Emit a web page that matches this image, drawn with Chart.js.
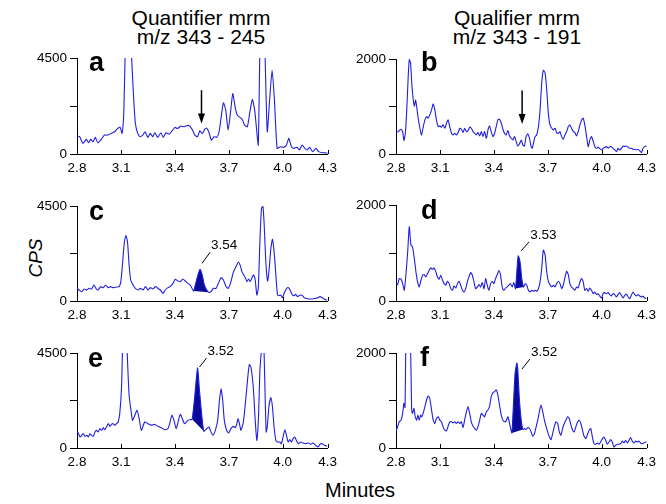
<!DOCTYPE html>
<html>
<head>
<meta charset="utf-8">
<script src="https://cdn.jsdelivr.net/npm/chart.js@4.4.1/dist/chart.umd.min.js"></script>
<style>
  body { margin: 0; background: #fff; width: 666px; height: 504px; position: relative; overflow: hidden;
         font-family: 'Liberation Sans', Arial, Helvetica, sans-serif; color: #000; }
  canvas { position: absolute; }
  .title { position: absolute; width: 240px; text-align: center; font-size: 21px; line-height: 19px; color: #000; }
  .axisname { position: absolute; white-space: nowrap; line-height: 1; color: #000; transform: translate(-50%, -50%); }
</style>
</head>
<body>
<div class="title" style="left:81px;top:8px">Quantifier mrm<br>m/z 343 - 245</div>
<div class="title" style="left:397px;top:8px">Qualifier mrm<br>m/z 343 - 191</div>
<div class="axisname" style="left:35px;top:258px;font-size:19px;font-style:italic;transform:translate(-50%,-50%) rotate(-90deg)">CPS</div>
<div class="axisname" style="left:360px;top:490px;font-size:20px">Minutes</div>

<canvas id="pa" width="326" height="132" style="left:17px;top:46px"></canvas>
<canvas id="pb" width="326" height="131" style="left:336px;top:47px"></canvas>
<canvas id="pc" width="326" height="131" style="left:17px;top:194px"></canvas>
<canvas id="pd" width="326" height="132" style="left:336px;top:193px"></canvas>
<canvas id="pe" width="326" height="131" style="left:17px;top:341px"></canvas>
<canvas id="pf" width="326" height="131" style="left:336px;top:341px"></canvas>

<script>
// x axis: the plotted window runs a bit inside the end labels 2.8 / 4.3
const tickTimes = [2.855, 3.1, 3.4, 3.7, 4.0, 4.25];
const tickLabels = ["2.8", "3.1", "3.4", "3.7", "4.0", "4.3"];

// a: quantifier, blank
const aTimes = [2.857,2.870,2.888,2.907,2.920,2.931,2.944,2.957,2.971,2.990,3.008,3.027,3.045,3.064,3.082,3.095,3.106,3.116,3.125,3.138,3.156,3.171,3.180,3.193,3.206,3.221,3.234,3.249,3.263,3.276,3.289,3.304,3.322,3.335,3.350,3.369,3.387,3.400,3.415,3.433,3.452,3.470,3.483,3.498,3.511,3.526,3.539,3.553,3.566,3.577,3.590,3.603,3.618,3.633,3.646,3.659,3.670,3.683,3.696,3.711,3.722,3.735,3.747,3.762,3.775,3.788,3.803,3.816,3.831,3.844,3.855,3.864,3.873,3.886,3.901,3.914,3.927,3.941,3.954,3.969,3.988,4.006,4.021,4.034,4.049,4.062,4.080,4.093,4.108,4.123,4.136,4.150,4.167,4.185,4.200,4.219,4.237,4.252];
const aCounts = [841,810,498,685,529,685,576,779,529,685,887,887,965,1043,1199,1246,965,2055,5500,8000,5000,2522,1432,965,810,887,1043,779,965,810,996,779,996,779,996,934,1121,1246,1199,1308,1277,1339,1308,1121,887,810,1090,965,1152,1214,996,654,810,779,1043,1822,2398,2055,1121,2055,2834,2211,1822,1713,1619,1355,1277,1900,2553,2055,1121,420,4800,7500,4800,1043,2522,3924,2522,265,343,311,420,732,343,265,311,187,420,265,187,311,109,265,109,62,62,31];
const aArrow = { time: 3.548, top: 2990, tip: 1432 };

// b: qualifier, blank
const bTimes = [2.855,2.868,2.881,2.892,2.899,2.907,2.914,2.923,2.929,2.936,2.944,2.951,2.957,2.964,2.970,2.977,2.988,2.997,3.007,3.016,3.025,3.034,3.043,3.053,3.062,3.071,3.080,3.090,3.099,3.108,3.117,3.127,3.136,3.145,3.154,3.164,3.173,3.182,3.191,3.201,3.210,3.219,3.228,3.237,3.247,3.256,3.265,3.274,3.284,3.293,3.302,3.311,3.321,3.330,3.339,3.348,3.358,3.367,3.376,3.385,3.395,3.404,3.413,3.422,3.431,3.441,3.450,3.459,3.468,3.478,3.487,3.496,3.505,3.515,3.524,3.533,3.542,3.552,3.561,3.570,3.579,3.589,3.598,3.607,3.613,3.620,3.629,3.638,3.648,3.657,3.666,3.675,3.685,3.694,3.703,3.712,3.722,3.731,3.740,3.749,3.759,3.768,3.777,3.786,3.795,3.805,3.814,3.823,3.832,3.842,3.851,3.860,3.869,3.879,3.888,3.897,3.906,3.916,3.925,3.934,3.943,3.953,3.962,3.971,3.980,3.989,3.999,4.008,4.017,4.026,4.036,4.045,4.054,4.063,4.073,4.082,4.091,4.100,4.110,4.119,4.128,4.137,4.147,4.156,4.165,4.174,4.184,4.193,4.202,4.211,4.221,4.230,4.239,4.248,4.254];
const bCounts = [451,472,521,472,282,437,859,1634,1986,1915,1422,1141,1000,1141,1000,789,542,401,577,718,789,754,824,930,1056,930,718,577,592,563,613,542,648,718,577,437,401,437,401,451,542,521,451,542,472,493,563,542,472,437,401,451,380,472,366,472,331,507,592,472,366,437,577,718,732,648,521,437,401,493,380,331,296,366,261,169,211,296,190,169,366,423,331,155,120,225,366,401,577,930,1493,1761,1704,1352,859,613,542,507,542,451,437,472,366,310,401,472,577,613,542,472,451,380,472,613,718,754,613,366,155,296,366,261,155,120,141,113,85,120,141,155,120,155,155,120,85,49,120,85,120,169,155,169,141,120,120,99,99,85,99,70,28,120,155,169,155];
const bArrow = { time: 3.557, top: 1338, tip: 634 };

// c: quantifier, spiked low level
const cTimes = [2.855,2.866,2.881,2.894,2.909,2.922,2.936,2.949,2.960,2.973,2.986,3.001,3.014,3.029,3.042,3.056,3.075,3.090,3.099,3.108,3.117,3.127,3.136,3.145,3.154,3.167,3.180,3.195,3.208,3.223,3.236,3.250,3.263,3.278,3.291,3.306,3.319,3.334,3.346,3.361,3.374,3.389,3.402,3.417,3.430,3.444,3.457,3.472,3.485,3.500,3.505,3.518,3.531,3.540,3.552,3.564,3.577,3.588,3.601,3.614,3.629,3.642,3.657,3.670,3.685,3.697,3.712,3.725,3.740,3.753,3.764,3.773,3.783,3.792,3.801,3.810,3.819,3.829,3.838,3.847,3.856,3.864,3.873,3.882,3.890,3.897,3.906,3.916,3.925,3.934,3.943,3.952,3.962,3.971,3.980,3.989,3.999,4.008,4.017,4.026,4.036,4.045,4.054,4.063,4.073,4.082,4.091,4.100,4.110,4.119,4.128,4.147,4.165,4.184,4.196,4.207,4.220,4.230,4.239,4.248];
const cCounts = [600,521,442,568,521,600,568,758,600,521,679,632,758,632,679,632,663,679,916,1705,2653,3095,2811,1705,995,758,600,521,600,521,679,521,632,568,679,600,521,363,521,632,679,837,1026,947,916,1042,947,837,758,521,474,916,1311,1500,1232,758,521,411,442,600,600,837,1105,995,679,600,916,1358,1626,1832,1674,1390,1232,1105,916,1042,916,1105,1232,995,284,600,2811,4390,4470,3600,1863,947,1547,2495,2921,2337,1232,284,253,284,158,363,521,632,600,442,284,253,316,205,253,284,253,158,126,95,95,126,158,205,158,95,63,47];
const cShade = [3.505, 3.588];
const cPeakLabel = "3.54";

// d: qualifier, spiked low level
const dTimes = [2.855,2.864,2.873,2.883,2.892,2.901,2.910,2.920,2.929,2.938,2.947,2.957,2.966,2.975,2.984,2.994,3.003,3.012,3.021,3.031,3.040,3.049,3.058,3.067,3.077,3.086,3.095,3.104,3.114,3.123,3.132,3.141,3.151,3.160,3.169,3.178,3.188,3.197,3.206,3.215,3.225,3.234,3.243,3.252,3.261,3.271,3.280,3.289,3.298,3.308,3.317,3.326,3.335,3.345,3.354,3.363,3.372,3.382,3.391,3.400,3.409,3.419,3.428,3.437,3.446,3.455,3.465,3.474,3.483,3.492,3.502,3.511,3.520,3.529,3.535,3.542,3.548,3.555,3.565,3.574,3.583,3.592,3.601,3.611,3.620,3.629,3.638,3.648,3.657,3.666,3.675,3.685,3.694,3.703,3.712,3.722,3.731,3.740,3.749,3.759,3.768,3.777,3.786,3.795,3.805,3.814,3.823,3.832,3.842,3.851,3.860,3.869,3.879,3.888,3.897,3.906,3.916,3.925,3.934,3.943,3.953,3.962,3.971,3.980,3.989,3.999,4.008,4.017,4.026,4.036,4.045,4.054,4.063,4.073,4.082,4.091,4.100,4.110,4.119,4.128,4.137,4.147,4.156,4.165,4.174,4.184,4.193,4.202,4.211,4.221,4.230,4.239,4.248];
const dCounts = [383,341,467,455,362,223,537,1024,1547,1164,1129,885,606,397,293,432,537,551,502,571,641,690,662,690,606,502,453,537,432,362,328,411,362,258,223,314,272,362,411,328,223,188,258,397,502,592,537,397,258,293,341,293,383,258,467,328,223,362,411,362,467,551,634,537,293,223,272,293,328,362,293,383,258,676,941,880,746,467,293,362,328,223,188,223,202,223,202,258,397,676,1059,955,606,411,341,293,328,293,362,411,362,258,328,481,620,551,362,293,258,223,293,272,397,467,397,223,258,202,272,223,153,188,132,153,105,63,153,174,153,174,132,105,153,132,84,132,174,118,63,118,146,84,49,118,188,132,105,132,105,84,105,63,49];
const dShade = [3.520, 3.565];
const dPeakLabel = "3.53";

// e: quantifier, spiked higher level
const eTimes = [2.855,2.862,2.872,2.881,2.890,2.899,2.909,2.918,2.927,2.936,2.946,2.955,2.964,2.973,2.982,2.992,3.001,3.010,3.019,3.029,3.038,3.047,3.056,3.066,3.075,3.084,3.093,3.103,3.108,3.121,3.134,3.145,3.158,3.164,3.177,3.189,3.201,3.213,3.232,3.250,3.269,3.287,3.306,3.324,3.343,3.361,3.371,3.383,3.395,3.407,3.420,3.430,3.441,3.454,3.472,3.485,3.496,3.511,3.526,3.537,3.550,3.561,3.577,3.589,3.601,3.611,3.625,3.638,3.648,3.657,3.666,3.675,3.688,3.699,3.712,3.725,3.736,3.744,3.751,3.759,3.768,3.781,3.792,3.805,3.814,3.823,3.836,3.847,3.856,3.866,3.873,3.881,3.888,3.896,3.901,3.908,3.914,3.923,3.934,3.943,3.952,3.962,3.971,3.984,3.993,4.004,4.012,4.021,4.030,4.039,4.049,4.058,4.067,4.076,4.087,4.100,4.113,4.128,4.143,4.156,4.169,4.184,4.196,4.207,4.220,4.233,4.248];
const eCounts = [758,711,521,600,679,553,600,521,679,600,553,758,837,758,916,837,963,868,995,1153,1026,1121,1153,1074,1153,1232,1626,2890,4600,7500,4600,2500,1626,1310,1550,1784,1400,837,1232,1153,1074,1121,1026,963,868,916,1153,1547,1310,916,1310,1595,1389,1153,1310,1342,1358,2500,3790,2700,1500,790,916,995,758,600,837,1310,2258,2811,2258,1310,837,711,916,1026,963,1121,1390,1153,837,1232,2100,3284,3948,3837,2890,1310,363,1626,3679,4600,6500,4600,2890,758,995,1942,2384,1942,995,363,284,284,205,600,868,600,284,395,284,442,521,363,205,284,237,205,237,174,237,126,47,174,205,126,79];
const eShade = [3.496, 3.561];
const ePeakLabel = "3.52";

// f: qualifier, spiked higher level
const fTimes = [2.855,2.864,2.873,2.883,2.892,2.899,2.905,2.910,2.922,2.936,2.942,2.947,2.955,2.962,2.970,2.977,2.984,2.992,2.999,3.007,3.016,3.025,3.034,3.043,3.053,3.062,3.071,3.080,3.090,3.099,3.108,3.117,3.127,3.136,3.145,3.154,3.164,3.173,3.182,3.191,3.201,3.210,3.219,3.228,3.237,3.247,3.256,3.265,3.274,3.284,3.293,3.302,3.311,3.321,3.330,3.339,3.348,3.358,3.367,3.376,3.385,3.395,3.404,3.413,3.422,3.431,3.441,3.450,3.459,3.468,3.478,3.487,3.500,3.509,3.518,3.528,3.533,3.542,3.552,3.561,3.570,3.579,3.589,3.598,3.607,3.616,3.626,3.635,3.644,3.653,3.662,3.672,3.681,3.690,3.699,3.709,3.718,3.727,3.736,3.745,3.755,3.764,3.773,3.782,3.792,3.801,3.810,3.819,3.829,3.838,3.847,3.856,3.866,3.875,3.884,3.893,3.902,3.912,3.921,3.930,3.939,3.948,3.957,3.967,3.976,3.985,3.994,4.004,4.013,4.022,4.031,4.041,4.050,4.059,4.068,4.078,4.087,4.096,4.105,4.115,4.124,4.133,4.142,4.152,4.161,4.170,4.179,4.189,4.198,4.207,4.216,4.226,4.235,4.244,4.254];
const fCounts = [353,445,551,587,728,940,855,2200,3500,2200,798,728,834,657,587,693,587,693,657,742,869,1010,1095,1046,798,587,516,622,657,587,551,445,375,360,459,551,551,530,551,516,551,516,551,431,587,763,869,728,551,459,410,375,445,587,728,693,657,763,798,883,1081,1166,1187,1223,1117,905,693,587,551,572,657,516,318,940,1576,1788,1647,1011,587,389,410,389,431,410,339,247,304,445,587,763,905,763,587,459,339,233,177,304,445,551,516,339,269,410,516,587,657,622,481,375,339,445,551,587,516,375,247,198,290,375,410,233,92,78,106,78,127,198,233,163,78,127,177,127,21,57,78,78,92,148,106,163,106,163,219,148,106,148,127,148,106,92,106,127,127];
const fShade = [3.500, 3.561];
const fPeakLabel = "3.52";

const traceBlue = "#1f1fe0";
const shadeBlue = "#0a0a96";
const fontFamily = "'Liberation Sans', Arial, Helvetica, sans-serif";

Chart.defaults.font.family = fontFamily;
Chart.defaults.font.size = 13.5;
Chart.defaults.color = "#000";

const panels = [
  { id: "pa", letter: "a", times: aTimes, counts: aCounts, yMax: 4500, letterAt: [12, 13], arrow: aArrow },
  { id: "pb", letter: "b", times: bTimes, counts: bCounts, yMax: 2000, letterAt: [25, 12], arrow: bArrow },
  { id: "pc", letter: "c", times: cTimes, counts: cCounts, yMax: 4500, letterAt: [12, 14], shade: cShade, label: cPeakLabel, lead: [2, -6, 10, -17] },
  { id: "pd", letter: "d", times: dTimes, counts: dCounts, yMax: 2000, letterAt: [25, 14], shade: dShade, label: dPeakLabel, lead: [3, -5, 11, -14] },
  { id: "pe", letter: "e", times: eTimes, counts: eCounts, yMax: 4500, letterAt: [11, 14], shade: eShade, label: ePeakLabel, lead: [2, -1, 9, -10] },
  { id: "pf", letter: "f", times: fTimes, counts: fCounts, yMax: 2000, letterAt: [24, 13], shade: fShade, label: fPeakLabel, lead: [5, 6, 13, -4] }
];

// letters, inward x ticks, arrows and peak labels
function panelMarks(p, peak) {
  return {
    id: "marks_" + p.id,
    afterDraw(chart) {
      const { ctx, chartArea: area, scales: { x, y } } = chart;
      ctx.save();
      ctx.strokeStyle = "#000";
      ctx.fillStyle = "#000";
      ctx.lineWidth = 1;
      tickTimes.forEach(t => {
        const px = Math.round(x.getPixelForValue(t)) + 0.5;
        ctx.beginPath();
        ctx.moveTo(px, area.bottom);
        ctx.lineTo(px, area.bottom - 4);
        ctx.stroke();
      });

      ctx.font = "bold 27px " + fontFamily;
      ctx.textAlign = "left";
      ctx.textBaseline = "alphabetic";
      ctx.fillText(p.letter, area.left + p.letterAt[0], area.top + p.letterAt[1]);

      if (p.arrow) {
        const ax = x.getPixelForValue(p.arrow.time);
        const y1 = y.getPixelForValue(p.arrow.top);
        const y2 = y.getPixelForValue(p.arrow.tip);
        ctx.lineWidth = 1.5;
        ctx.beginPath();
        ctx.moveTo(ax, y1);
        ctx.lineTo(ax, y2 - 8);
        ctx.stroke();
        ctx.beginPath();
        ctx.moveTo(ax - 3.5, y2 - 10);
        ctx.lineTo(ax + 3.5, y2 - 10);
        ctx.lineTo(ax, y2);
        ctx.closePath();
        ctx.fill();
      }

      if (peak) {
        const px = x.getPixelForValue(peak.x);
        const py = y.getPixelForValue(peak.y);
        const [dx1, dy1, dx2, dy2] = p.lead;
        ctx.lineWidth = 1;
        ctx.beginPath();
        ctx.moveTo(px + dx1, py + dy1);
        ctx.lineTo(px + dx2, py + dy2);
        ctx.stroke();
        ctx.font = "13.5px " + fontFamily;
        ctx.textBaseline = "middle";
        ctx.fillText(p.label, px + dx2 + 1, py + dy2 - 7);
      }
      ctx.restore();
    }
  };
}

panels.forEach(p => {
  const pts = p.times.map((t, i) => ({ x: t, y: p.counts[i] }));
  const datasets = [{
    data: pts, borderColor: traceBlue, borderWidth: 1.1, pointRadius: 0, tension: 0.2, fill: false
  }];
  let peak = null;
  if (p.shade) {
    const part = pts.filter(q => q.x >= p.shade[0] - 1e-9 && q.x <= p.shade[1] + 1e-9);
    peak = part.reduce((m, q) => (q.y > m.y ? q : m), part[0]);
    datasets.push({
      data: part, borderWidth: 0, borderColor: "transparent", pointRadius: 0, tension: 0.2,
      fill: "+1", backgroundColor: shadeBlue
    });
    datasets.push({
      data: [part[0], part[part.length - 1]], borderWidth: 0, borderColor: "transparent",
      pointRadius: 0, tension: 0, fill: false
    });
  }

  new Chart(document.getElementById(p.id), {
    type: "line",
    data: { datasets },
    options: {
      responsive: false,
      animation: false,
      devicePixelRatio: 1,
      layout: { padding: { top: 12, right: 14, left: 0, bottom: 0 } },
      plugins: { legend: { display: false }, tooltip: { enabled: false } },
      scales: {
        x: {
          type: "linear", min: tickTimes[0], max: tickTimes[tickTimes.length - 1],
          afterBuildTicks: s => { s.ticks = tickTimes.map(v => ({ value: v })); },
          afterFit: s => { s.height = 24; },
          ticks: { autoSkip: false, maxRotation: 0, padding: 6, color: "#000",
                   callback: (v, i) => tickLabels[i] },
          grid: { display: false, drawTicks: false },
          border: { display: true, color: "#000", width: 1 }
        },
        y: {
          type: "linear", min: 0, max: p.yMax,
          afterBuildTicks: s => { s.ticks = [0, p.yMax / 2, p.yMax].map(v => ({ value: v })); },
          afterFit: s => { s.width = 60; },
          ticks: { padding: 3, color: "#000",
                   callback: v => (v === p.yMax / 2 ? "" : String(v)) },
          grid: { drawOnChartArea: false, drawTicks: true, tickLength: 7, color: "#000", lineWidth: 1 },
          border: { display: true, color: "#000", width: 1 }
        }
      }
    },
    plugins: [panelMarks(p, peak)]
  });
});
</script>
</body>
</html>
